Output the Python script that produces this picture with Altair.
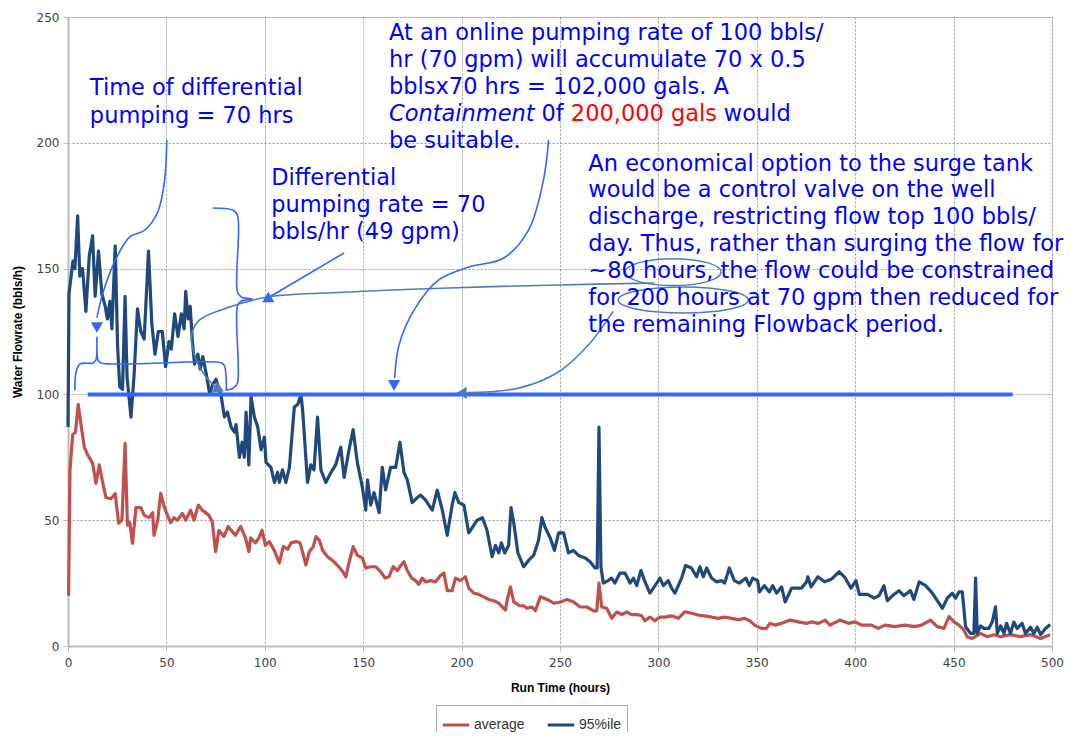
import altair as alt
import pandas as pd

# ---------------- data ----------------
hours_95 = [0, 0.5, 2.5, 3.5, 4.9, 6, 7.4, 9.1, 10.8, 12.5, 13.8, 15.5, 17.2, 18.9, 20, 21.3, 22.3, 24, 25.2, 26.3,
            27.7, 29, 30, 32, 33.6, 35.3, 37, 38.7, 40.9, 42.6, 44.2, 45.9, 47.9, 49.6, 51.3, 52.5, 54.2, 55.9, 57.6, 59,
            59.8, 61, 62.1, 63.2, 64.3, 66, 67.2, 68.5, 70.3, 72, 73.5, 75.2, 77.9, 79.5, 81, 82.9, 84.6, 85.4, 87.1, 88.5,
            89.6, 90.5, 91.9, 93, 94.7, 96.4, 98.1, 99.8, 100.6, 103.1, 104.9, 106.5, 107.4, 109, 110.7, 112.5, 115, 116.7, 118.4, 119.3,
            121.7, 123.4, 125, 126.8, 128.5, 131, 133.6, 136, 138.6, 140.3, 142.8, 144.9, 147, 149.6, 151.3, 152.2, 153.8, 155.5, 158.1, 159.7,
            161.4, 163.9, 166.5, 168.7, 170.7, 172.4, 174.9, 177.5, 179.2, 181.7, 185.1, 187.6, 190.2, 192.7, 195.2, 196.6, 198.6, 201.2, 203.6, 205.4,
            207.9, 210.6, 212.9, 215.5, 217.2, 218.9, 220.2, 221.9, 223.9, 225.1, 226.5, 228.6, 231.5, 234, 236.6, 239.1, 240.8, 242.5, 245, 247.2,
            249.3, 251.8, 254.3, 256.8, 259.4, 262.8, 265.3, 267.8, 268.9, 269.8, 270.8, 272, 274.5, 276.2, 277.9, 280.5, 283, 285.6, 287.3, 289,
            291.1, 293.2, 295.7, 298.3, 300.8, 302.5, 305, 306.7, 308.4, 311.8, 313.8, 316.8, 319.4, 321.1, 322.8, 324.5, 327, 329.5, 332, 333.7,
            336, 338.6, 341.1, 344.5, 346.2, 347.9, 350.4, 351.3, 353.8, 356.4, 358.1, 360, 362.6, 364.4, 367.7, 372.7, 375.3, 375.9, 377.6, 381,
            384.4, 387.8, 391.9, 394.5, 397.9, 400.4, 402.1, 406.3, 409.6, 412.1, 414.6, 416.3, 419.7, 422.2, 424.7, 428.1, 429.8, 432.5, 435.8, 439.2,
            441.7, 444.3, 446.8, 449.3, 451, 452.7, 454.4, 456.1, 458.6, 460.3, 461.2, 462, 463.7, 465.4, 467.9, 469.6, 471.3, 472.2, 473.9, 475.6,
            476.9, 478.9, 480.6, 482.3, 484.8, 486.5, 489.1, 490.8, 492.5, 494.2, 496.7, 499.1]
flow_95 = [87, 140, 153, 150, 171, 147, 150, 133, 155, 163, 139, 157, 140, 135, 130, 137, 126, 159, 119, 103,
           102, 139, 107, 91, 108, 134, 125, 122, 157, 128, 116, 125, 125, 111, 121, 118, 132, 123, 132, 126,
           141, 130, 135, 121, 112, 116, 110, 115, 108, 100, 104, 106, 99, 91, 93, 87, 85, 88, 75, 81,
           75, 93, 72, 99, 91, 87, 78, 83, 73, 71, 65, 69, 65, 70, 65, 71, 95, 96, 99.8, 93,
           65, 72, 70, 91, 70, 65, 69, 72, 79, 67, 78, 86, 73, 63, 54, 66, 56, 61, 53, 71,
           62, 71, 71, 81, 69, 66, 57, 59, 60, 58, 54, 62, 54, 44, 56, 61, 57, 56, 45, 47,
           50, 51, 46, 35.5, 40, 37, 41, 37, 40, 55, 49, 37, 31.5, 34, 36, 42, 51, 47, 43, 38,
           45, 45, 37, 38, 36, 35, 33.5, 31, 31, 87, 31.5, 25, 26, 27, 25, 29, 29, 25, 27, 24,
           30, 25.5, 21, 24, 27, 24, 26, 23, 21, 27, 32, 31, 27.5, 31.5, 27.5, 31, 27, 25.5, 26, 25,
           31, 26, 25, 27, 24, 27, 26, 21.5, 24, 21.5, 24, 21, 23.5, 17.5, 23, 23, 25.5, 27.5, 23.5, 27.5,
           25.5, 26.5, 29.5, 27.5, 23, 26, 20.5, 20.5, 19, 20, 24, 18, 20.5, 22, 20, 22, 18.5, 25.5, 24, 21,
           18, 15, 19, 21, 19, 21.5, 21.5, 7.7, 5, 5, 27, 5, 8, 7, 7, 9.5, 15.6, 5, 8, 5,
           9, 5, 9.5, 7, 9, 5, 7.5, 5, 7.5, 4.5, 7, 8.5]

hours_avg = [0.3, 1, 2.4, 3.8, 5.2, 6.6, 8.3, 10, 12.5, 14.2, 15.9, 17.6, 19.3, 21.8, 24, 25.7, 27.4, 29, 30.2, 31.4,
             32.8, 34.5, 37, 38.7, 41.3, 43, 43.7, 45.6, 47.1, 48.8, 50.5, 52.2, 53.9, 55.6, 58.1, 59.8, 62.3, 64, 66.2, 68.2,
             69.9, 71.6, 73.3, 75, 76.7, 79.2, 81.4, 83.4, 85.1, 87.7, 90.2, 91.9, 92.8, 95.3, 97, 98.6, 100.3, 102.3, 104.8, 107.4,
             109.4, 111.6, 113.4, 115.9, 117.9, 119.3, 120.9, 122.6, 124.6, 126, 127.7, 129.4, 131.9, 134.4, 137, 139.2, 141.2, 142.9, 144.9, 147.1,
             149.6, 151.3, 153.8, 156.4, 158.9, 161.1, 163.1, 165.2, 167.4, 169.1, 170.7, 172.4, 174.6, 176.6, 178.3, 180, 181.7, 184.2, 186.8, 189.3,
             191, 192.7, 195.2, 196.9, 199.4, 202, 203.6, 206.2, 208.7, 211.2, 213.8, 216.3, 218.9, 221.4, 222.3, 223.1, 224.8, 226.5, 229.5, 231.5,
             233.2, 235.8, 237.5, 240, 243.4, 246.8, 250.2, 253.5, 256.9, 260.3, 263.7, 267.1, 268.7, 269.8, 271.2, 273.7, 276.3, 278.8, 281.4, 283.9,
             286.4, 289, 291.5, 293.2, 295.7, 298.3, 300.8, 303.3, 306.7, 310.1, 313.4, 316.8, 320.2, 323.6, 327, 330.3, 333.7, 337.1, 340.5, 343.9,
             346.5, 348.9, 352.3, 354.9, 356.6, 359.1, 362.6, 366.9, 371.1, 375.3, 377.9, 381.3, 384.7, 387.2, 392.2, 396.5, 399.9, 403.2, 408.3, 411.7,
             415.1, 420.2, 425.2, 430.3, 433.7, 438.3, 441.7, 445.1, 447.7, 450.2, 452.7, 455.3, 456.9, 459.4, 461.1, 463.7, 467.1, 470.5, 473.9, 478.9,
             484, 489.1, 494.2, 499.1]
flow_avg = [20, 70, 84, 85, 96, 88, 79, 76, 72.6, 64.7, 72, 65, 59, 58.5, 60.5, 48.8, 50, 80.5, 48, 49,
            40.8, 55, 55, 52, 51, 53, 44, 50, 60.7, 55.6, 52, 49, 51, 50, 52.7, 50, 54, 50, 56, 54,
            53, 52, 49.4, 37.5, 46, 43.5, 47.5, 45.5, 44, 47.5, 43, 37.5, 43, 41, 43, 46, 40, 41.5, 38, 33,
            39.5, 38.5, 41, 41.5, 41, 37, 32.2, 37.5, 39.5, 43.5, 42, 38, 35.5, 34, 32, 30, 27.5, 33.5, 39.5, 36,
            35, 31, 31.5, 31.5, 29.5, 27, 27.5, 31.5, 30, 32, 33.5, 30, 27, 26, 24.5, 27, 25.5, 26, 25.5, 28,
            29, 22, 22, 27, 26, 27.5, 23, 21, 20.5, 19.5, 18.5, 18, 17, 15, 14.3, 18, 23.5, 17.5, 16, 16,
            15, 15.5, 14, 19.6, 18.5, 17, 17.5, 18.5, 17.5, 15.5, 15.5, 14, 14, 25, 15.5, 15, 11, 13.5, 12.5, 13.5,
            12.5, 12.5, 12, 10, 11.5, 10, 11.5, 11.5, 12, 11, 13.6, 13, 12.3, 12, 11.5, 11, 11.5, 11, 10.5, 11,
            10, 8.3, 7, 7, 9, 8.3, 9, 10.3, 9.6, 9, 9.6, 9, 10.3, 8.3, 10.3, 9, 9.6, 8.3, 8.3, 7,
            8.3, 7.7, 8.3, 7.7, 8.3, 10.3, 7.7, 7, 11.7, 9.6, 8.3, 6.3, 3.7, 3, 3.7, 5, 3.7, 4.5, 3.7, 4.5,
            3.7, 4.5, 3, 4.5]

series_names = ["average", "95%ile"]
series_colors = ["#C0504D", "#1F497D"]

x_ticks = [0, 50, 100, 150, 200, 250, 300, 350, 400, 450, 500]
y_ticks = [0, 50, 100, 150, 200, 250]

# ---------------- annotation geometry (data units: hours, bbls/h) ----------------
BRIGHT = "#3366FF"
STEEL = "#4A7EBB"
TEXT_BLUE = "#0000FF"

limit_rate = 100
limit_span = [10, 480]

curves = {
    # horizontal curly brace over the first ~80 hours
    "brace_h": ([3.5, 4.1, 6.1, 12.7, 14.2, 14.7, 15.2, 16.7, 78.0, 79.5, 80.5],
                [101.7, 108.9, 112.1, 112.5, 113.7, 122.8, 113.7, 112.5, 112.5, 111.3, 101.7], BRIGHT),
    # vertical curly brace, pointing right
    "brace_v": ([73.5, 83.6, 86.1, 86.1, 88.1, 93.7, 88.1, 86.1, 86.1, 84.1, 80.0],
                [174.1, 173.3, 171.3, 140.7, 138.7, 137.9, 137.1, 135.1, 104.5, 102.5, 101.7], BRIGHT),
    # arrow from "Time of differential pumping"
    "arrow_a": ([50.2, 49.1, 45.6, 39.0, 31.4, 24.8, 17.7, 14.7],
                [201.1, 185.2, 172.5, 165.3, 162.6, 154.6, 140.3, 130.4], BRIGHT),
    # arrow from "Differential pumping rate"
    "arrow_b": ([140.3, 101.3], [156.2, 138.2], BRIGHT),
    # connector from "~80 hours" ellipse into the early data
    "curve_c": ([298.0, 249.2, 193.5, 142.9, 101.3, 82.1, 66.9, 62.8, 64.3, 69.4, 75.0],
                [144.3, 143.5, 142.3, 140.7, 138.7, 134.7, 129.6, 123.6, 115.7, 107.7, 102.8], STEEL),
    # arrow from the containment text
    "arrow_d": ([244.2, 241.6, 234.0, 221.4, 203.6, 188.4, 175.8, 168.2, 166.0],
                [201.1, 185.2, 165.3, 154.2, 150.6, 145.5, 133.5, 119.6, 106.5], BRIGHT),
    # arrow from "200 hours" ellipse to the 100 bbls/h line
    "arrow_f": ([277.0, 264.4, 249.2, 229.0, 203.0],
                [133.0, 119.6, 108.9, 102.5, 100.7], STEEL),
}
rows = []
for name, (xs_, ys_, col) in curves.items():
    for i, (xv, yv) in enumerate(zip(xs_, ys_)):
        rows.append({"curve": name, "i": i, "h": xv, "v": yv, "col": col})
curve_df = pd.DataFrame(rows)

heads_df = pd.DataFrame({
    "h": [14.7, 101.8, 76.0, 165.7, 200.8],
    "v": [127.3, 138.0, 102.3, 104.3, 100.6],
    "ang": [180, 240, 115, 180, 268],
    "col": [BRIGHT, BRIGHT, STEEL, BRIGHT, STEEL],
})

ell_small = pd.DataFrame({"h": [307.5], "v": [148.6]})
ell_large = pd.DataFrame({"h": [312.6], "v": [137.5]})

text_plain = pd.DataFrame({
    "h": [11.1, 11.1,
          103.3, 103.3, 103.3,
          163.1, 163.1, 163.1, 163.1, 240.6, 333.2,
          264.4, 264.4, 264.4, 264.4, 264.4, 264.4, 264.4],
    "v": [221.8, 210.7,
          186.0, 175.3, 164.5,
          243.6, 232.9, 222.2, 200.7, 211.4, 211.4,
          191.6, 181.2, 170.5, 159.8, 149.0, 138.3, 127.6],
    "t": ["Time of differential", "pumping = 70 hrs",
          "Differential", "pumping rate = 70", "bbls/hr (49 gpm)",
          "At an online pumping rate of 100 bbls/", "hr (70 gpm) will accumulate 70 x 0.5",
          "bblsx70 hrs = 102,000 gals. A", "be suitable.", "0f", "would",
          "An economical option to the surge tank", "would be a control valve on the well",
          "discharge, restricting flow top 100 bbls/", "day. Thus, rather than surging the flow for",
          "~80 hours, the flow could be constrained", "for 200 hours at 70 gpm then reduced for",
          "the remaining Flowback period."],
})
text_italic = pd.DataFrame({"h": [163.1], "v": [211.4], "t": ["Containment"]})
text_red = pd.DataFrame({"h": [255.5], "v": [211.4], "t": ["200,000 gals"]})

# ---------------- chart ----------------
df = pd.concat([
    pd.DataFrame({"hours": hours_avg, "flow": flow_avg, "series": "average"}),
    pd.DataFrame({"hours": hours_95, "flow": flow_95, "series": "95%ile"}),
])

xs = alt.Scale(domain=[0, 500], nice=False)
ys = alt.Scale(domain=[0, 250], nice=False)
X_AX = alt.Axis(values=x_ticks, title="Run Time (hours)", labelFont="DejaVu Sans", labelFontSize=12,
                labelColor="#404040", titleFont="Liberation Sans", titleFontSize=12, titleFontWeight="bold",
                titleColor="#000", titlePadding=14, grid=True, gridDash=[2, 2], gridColor="#999",
                domainColor="#BBBBBB", domainWidth=2, tickColor="#BBBBBB", tickSize=5, labelPadding=6,
                labelFlush=False)
Y_AX = alt.Axis(values=y_ticks, title="Water Flowrate (bbls/h)", labelFont="DejaVu Sans", labelFontSize=12,
                labelColor="#404040", titleFont="Liberation Sans", titleFontSize=12, titleFontWeight="bold",
                titleColor="#000", titlePadding=12, grid=True, gridDash=[2, 2], gridColor="#999",
                domainColor="#BBBBBB", domainWidth=2, tickColor="#BBBBBB", tickSize=5, labelPadding=4,
                labelFlush=False)

lines = alt.Chart(df).mark_line(strokeWidth=3.2, strokeJoin="round").encode(
    x=alt.X("hours:Q", scale=xs, axis=X_AX),
    y=alt.Y("flow:Q", scale=ys, axis=Y_AX),
    color=alt.Color("series:N", scale=alt.Scale(domain=series_names, range=series_colors),
                    legend=alt.Legend(title=None, orient="none", legendX=368, legendY=688, direction="horizontal",
                                      symbolType="stroke", symbolSize=700, symbolStrokeWidth=3,
                                      labelFont="Liberation Sans", labelFontSize=14, labelColor="#333",
                                      strokeColor="#AAAAAA", padding=5, columnPadding=16, labelOffset=3)),
    order=alt.Order("hours:Q"),
)

limit_df = pd.DataFrame({"h": limit_span, "v": [limit_rate, limit_rate]})
limit = alt.Chart(limit_df).mark_line(color=BRIGHT, strokeWidth=4).encode(
    x=alt.X("h:Q", scale=xs), y=alt.Y("v:Q", scale=ys))

curve_layer = alt.Chart(curve_df).mark_line(strokeWidth=1.6, interpolate="catmull-rom").encode(
    x=alt.X("h:Q", scale=xs), y=alt.Y("v:Q", scale=ys), detail="curve:N",
    order=alt.Order("i:Q"), color=alt.Color("col:N", scale=None))

head_layer = alt.Chart(heads_df).mark_point(shape="triangle", filled=True, size=150, opacity=1).encode(
    x=alt.X("h:Q", scale=xs), y=alt.Y("v:Q", scale=ys), angle=alt.Angle("ang:Q", scale=None),
    color=alt.Color("col:N", scale=None))

ELL1 = "M -1 0 A 1 0.28 0 1 1 1 0 A 1 0.28 0 1 1 -1 0 Z"
ELL2 = "M -1 0 A 1 0.2 0 1 1 1 0 A 1 0.2 0 1 1 -1 0 Z"
ell1 = alt.Chart(ell_small).mark_point(shape=ELL1, size=96 * 96, filled=False, stroke=STEEL, strokeWidth=1.5,
                                        opacity=1).encode(x=alt.X("h:Q", scale=xs), y=alt.Y("v:Q", scale=ys))
ell2 = alt.Chart(ell_large).mark_point(shape=ELL2, size=130 * 130, filled=False, stroke=STEEL, strokeWidth=1.5,
                                        opacity=1).encode(x=alt.X("h:Q", scale=xs), y=alt.Y("v:Q", scale=ys))

TXT = dict(align="left", baseline="middle", font="DejaVu Sans", fontSize=22.5)
t_plain = alt.Chart(text_plain).mark_text(color=TEXT_BLUE, **TXT).encode(
    x=alt.X("h:Q", scale=xs), y=alt.Y("v:Q", scale=ys), text="t:N")
t_ital = alt.Chart(text_italic).mark_text(color=TEXT_BLUE, fontStyle="italic", **TXT).encode(
    x=alt.X("h:Q", scale=xs), y=alt.Y("v:Q", scale=ys), text="t:N")
t_red = alt.Chart(text_red).mark_text(color="#FF0000", **TXT).encode(
    x=alt.X("h:Q", scale=xs), y=alt.Y("v:Q", scale=ys), text="t:N")

chart = alt.layer(lines, limit, curve_layer, head_layer, ell1, ell2, t_plain, t_ital, t_red).properties(
    width=984, height=629,
    autosize=alt.AutoSizeParams(type="none"),
    padding={"left": 60, "top": 9, "right": 12, "bottom": 86},
).configure_view(stroke="#BBBBBB", strokeWidth=1).configure(background="white")

chart.save("out.html", embed_options={"renderer": "svg", "actions": False})
